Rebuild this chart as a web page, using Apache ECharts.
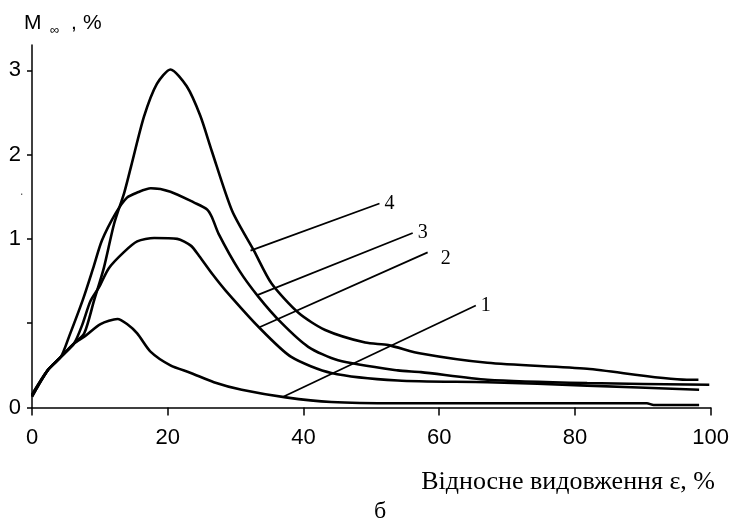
<!DOCTYPE html>
<html>
<head>
<meta charset="utf-8">
<script src="https://cdn.jsdelivr.net/npm/echarts@6/dist/echarts.min.js"></script>
<style>
  html, body { margin: 0; padding: 0; background: #fff; }
  #chart { width: 732px; height: 529px; }
</style>
</head>
<body>
<div id="chart"></div>
<script>
// x: відносне видовження, %; y: position on the (non-linear) M axis, in tick steps
const yTickValues = [0, 1, 2, 3, 4];
const yTickLabels = ['0', '', '1', '2', '3'];

const curve1 = [[0, 0.13], [2.3, 0.44], [4.25, 0.6], [6.2, 0.76], [7.7, 0.84], [10.1, 0.99],
  [12.6, 1.05], [14.0, 0.99], [15.5, 0.88], [17.5, 0.66], [20.4, 0.5], [23.4, 0.41],
  [26.8, 0.3], [30.9, 0.21], [37.4, 0.12], [44.1, 0.065], [53.9, 0.05], [90.6, 0.05],
  [91.6, 0.03], [98.3, 0.03]];
const curve2 = [[0, 0.13], [2.3, 0.44], [4.25, 0.6], [6.2, 0.76], [7.4, 0.98], [8.6, 1.26],
  [9.9, 1.43], [11.3, 1.65], [13.5, 1.84], [15.5, 1.97], [18.0, 2.01], [21.4, 2.0],
  [23.4, 1.92], [24.6, 1.8], [26.6, 1.58], [28.5, 1.39], [33.4, 0.955], [38.2, 0.6],
  [44.1, 0.41], [53.9, 0.32], [67.1, 0.3], [81.8, 0.26], [98.3, 0.21]];
const curve3 = [[0, 0.15], [2.3, 0.44], [4.25, 0.6], [5.5, 0.85], [7.5, 1.28], [9.0, 1.65],
  [10.3, 1.98], [12.3, 2.3], [14.0, 2.49], [15.5, 2.55], [17.5, 2.6], [20.4, 2.56],
  [23.9, 2.43], [25.8, 2.35], [26.5, 2.26], [27.5, 2.06], [30.5, 1.63], [33.4, 1.31],
  [36.8, 1.0], [40.7, 0.72], [45.1, 0.56], [53.9, 0.44], [57.3, 0.42], [67.1, 0.33],
  [81.8, 0.29], [99.8, 0.27]];
const curve4 = [[0, 0.15], [2.3, 0.44], [4.25, 0.6], [6.2, 0.76], [7.7, 0.88], [9.15, 1.27],
  [10.6, 1.66], [12.1, 2.18], [13.6, 2.55], [14.6, 2.86], [16.5, 3.45], [18.4, 3.84],
  [20.4, 4.01], [22.8, 3.81], [24.8, 3.46], [26.5, 3.04], [29.5, 2.33], [32.7, 1.86],
  [35.3, 1.47], [39.3, 1.12], [43.2, 0.92], [49.1, 0.77], [52.5, 0.74], [57.3, 0.64],
  [67.1, 0.53], [81.8, 0.46], [96.5, 0.33], [98.2, 0.33]];

// leader lines from each curve to its number
const leaderNames = ['1', '2', '3', '4'];
const leaders = [
  [[37.1, 0.13], [65.4, 1.21]],
  [[33.6, 0.955], [58.3, 1.84]],
  [[33.1, 1.33], [56.1, 2.07]],
  [[32.2, 1.86], [51.2, 2.42]]
];

const chart = echarts.init(document.getElementById('chart'));

const curveSeries = [curve1, curve2, curve3, curve4].map(d => ({
  type: 'line',
  data: d,
  smooth: 0.25,
  symbol: 'none',
  lineStyle: { color: '#000', width: 2.6 },
  silent: true
}));

const leaderSeries = leaders.map((d, i) => ({
  type: 'line',
  data: d,
  symbol: 'none',
  lineStyle: { color: '#000', width: 1.8 },
  silent: true,
  endLabel: {
    show: true,
    formatter: leaderNames[i],
    distance: 4,
    offset: i === 1 ? [9, 6] : [1, 0],
    fontFamily: 'Liberation Serif',
    fontSize: 20,
    color: '#000'
  }
}));

const labelFont = 'Liberation Sans Narrow, Liberation Sans';

const option = {
  animation: false,
  backgroundColor: '#fff',
  grid: { left: 32, right: 18, top: 45, bottom: 121.5 },
  xAxis: {
    type: 'value',
    min: 0,
    max: 100,
    interval: 20,
    splitLine: { show: false },
    axisLine: { lineStyle: { color: '#000', width: 1.5 } },
    axisTick: { inside: false, length: 8, lineStyle: { color: '#000', width: 1.5 } },
    axisLabel: { margin: 19, fontFamily: labelFont, fontSize: 22, color: '#000' }
  },
  yAxis: {
    type: 'value',
    min: 0,
    max: 4.3,
    splitLine: { show: false },
    axisLine: { show: true, lineStyle: { color: '#000', width: 1.5 } },
    axisTick: { show: true, length: 5, customValues: yTickValues, lineStyle: { color: '#000', width: 1.5 } },
    axisLabel: {
      customValues: yTickValues,
      margin: 11,
      fontFamily: labelFont,
      fontSize: 22,
      color: '#000',
      formatter: v => yTickLabels[Math.round(v)] || ''
    }
  },
  graphic: [
    // y axis title: M∞, %
    { type: 'text', left: 24, top: 13, style: { text: 'M', font: '21px "Liberation Sans"', fill: '#000' } },
    { type: 'text', left: 50, top: 24, style: { text: '∞', font: '13px "Liberation Sans"', fill: '#000' } },
    { type: 'text', left: 71, top: 13, style: { text: ',', font: '21px "Liberation Sans"', fill: '#000' } },
    { type: 'text', left: 83, top: 13, style: { text: '%', font: '21px "Liberation Sans"', fill: '#000' } },
    {
      type: 'text',
      right: 17,
      top: 469,
      style: { text: 'Відносне видовження ε, %', font: '26px "Liberation Serif"', fill: '#000' }
    },
    { type: 'text', left: 374, top: 500, style: { text: 'б', font: '24px "Liberation Serif"', fill: '#000' } },
    { type: 'text', left: 20, top: 186, style: { text: '.', font: '12px "Liberation Sans"', fill: '#555' } }
  ],
  series: curveSeries.concat(leaderSeries)
};

chart.setOption(option);
window.addEventListener('resize', () => chart.resize());
</script>
</body>
</html>
